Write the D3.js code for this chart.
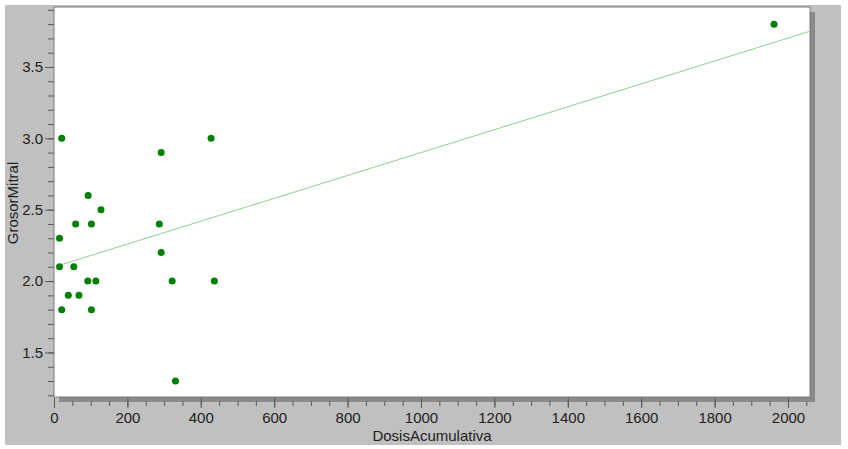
<!DOCTYPE html>
<html>
<head>
<meta charset="utf-8">
<script src="https://cdn.jsdelivr.net/npm/d3@7"></script>
<style>
  body { margin: 0; background: #fff; }
  svg { display: block; font-family: "Liberation Sans", Arial, sans-serif; }
</style>
</head>
<body>
<svg id="chart" width="848" height="449"></svg>
<script>
// values
const dosis = [21, 292, 428, 93, 128, 59, 102, 287, 15, 292, 15, 54, 92, 114, 322, 437, 39, 68, 21, 102, 331, 1962]
const grosor = [3.0, 2.9, 3.0, 2.6, 2.5, 2.4, 2.4, 2.4, 2.3, 2.2, 2.1, 2.1, 2.0, 2.0, 2.0, 2.0, 1.9, 1.9, 1.8, 1.8, 1.3, 3.8]

const xTicks = [0, 200, 400, 600, 800, 1000, 1200, 1400, 1600, 1800, 2000]
const yTicks = [1.5, 2.0, 2.5, 3.0, 3.5]
const xLabel = 'DosisAcumulativa'
const yLabel = 'GrosorMitral'

const svg = d3.select('#chart')
const W = 848, H = 449
const plot = { left: 54, top: 7, right: 810, bottom: 397 }

const x = d3.scaleLinear().domain([0, 2060]).range([plot.left, plot.right])
const y = d3.scaleLinear().domain([1.188, 3.92]).range([plot.bottom, plot.top])

// grey panel
svg.append('rect')
    .attr('x', 5).attr('y', 5)
    .attr('width', 836).attr('height', 440)
    .attr('fill', '#c0c0c0')

// drop shadow
svg.append('rect')
    .attr('x', plot.left + 5).attr('y', plot.top + 5)
    .attr('width', plot.right - plot.left).attr('height', plot.bottom - plot.top)
    .attr('fill', '#8a8a8a')

svg.append('rect')
    .attr('x', plot.left).attr('y', plot.top)
    .attr('width', plot.right - plot.left).attr('height', plot.bottom - plot.top)
    .attr('fill', '#fff')
    .attr('stroke', '#7a7a7a')
    .attr('stroke-width', 1)

// x axis, minor every 50
const gxMinor = svg.append('g')
    .attr('transform', `translate(0,${plot.bottom + 4})`)
    .call(d3.axisBottom(x).tickValues(d3.range(0, 2051, 50)).tickSize(5).tickFormat(''))
const gx = svg.append('g')
    .attr('transform', `translate(0,${plot.bottom + 1})`)
    .call(d3.axisBottom(x).tickValues(xTicks).tickSize(10).tickPadding(4).tickFormat(d3.format('d')))

// y axis, minor every 0.1
const gyMinor = svg.append('g')
    .attr('transform', `translate(${plot.left},0)`)
    .call(d3.axisLeft(y).tickValues(d3.range(1.2, 3.91, 0.1)).tickSize(6).tickFormat(''))
const gy = svg.append('g')
    .attr('transform', `translate(${plot.left},0)`)
    .call(d3.axisLeft(y).tickValues(yTicks).tickSize(9).tickPadding(2).tickFormat(d3.format('.1f')))

;[gx, gxMinor, gy, gyMinor].forEach(g => {
    g.select('.domain').remove()
    g.selectAll('line').attr('stroke', '#5a5a5a')
    g.selectAll('text').attr('fill', '#222').style('font-size', '15px')
})

// regression line (least squares)
const mx = d3.mean(dosis), my = d3.mean(grosor)
let sxy = 0, sxx = 0
dosis.forEach((d, i) => {
    sxy += (d - mx) * (grosor[i] - my)
    sxx += (d - mx) * (d - mx)
})
const slope = sxy / sxx
const icpt = my - slope * mx
const x0 = d3.min(dosis), x1 = x.domain()[1]

svg.append('line')
    .attr('x1', x(x0)).attr('y1', y(icpt + slope * x0))
    .attr('x2', x(x1)).attr('y2', y(icpt + slope * x1))
    .attr('stroke', '#8fd08f')
    .attr('stroke-width', 1)

svg.append('g')
    .selectAll('circle')
    .data(dosis.map((d, i) => ({ d, g: grosor[i] })))
    .enter()
    .append('circle')
    .attr('cx', p => x(p.d))
    .attr('cy', p => y(p.g))
    .attr('r', 3.5)
    .attr('fill', '#008000')

// axis titles
svg.append('text')
    .attr('x', 432).attr('y', 441)
    .attr('text-anchor', 'middle')
    .style('font-size', '15px')
    .attr('fill', '#222')
    .text(xLabel)

svg.append('text')
    .attr('transform', 'translate(18,203) rotate(-90)')
    .attr('text-anchor', 'middle')
    .style('font-size', '15px')
    .attr('fill', '#222')
    .text(yLabel)
</script>
</body>
</html>
